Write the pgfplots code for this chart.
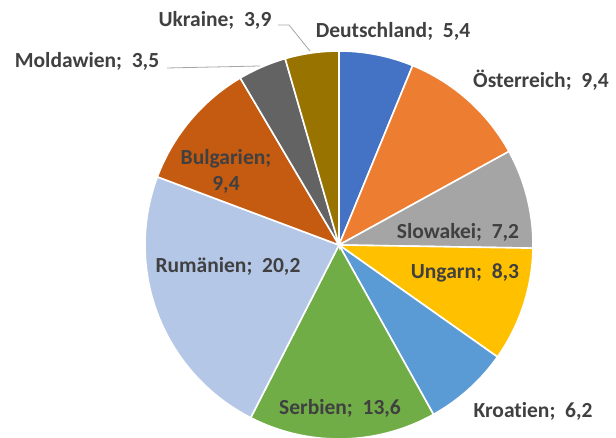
\documentclass[border=0pt]{standalone}
\usepackage{pgfplots}
\pgfplotsset{compat=1.18}
\usepackage{pgfplotstable}
\usepackage{fontspec}
\setmainfont{Carlito}[Ligatures=NoCommon, RawFeature={-calt;-clig}]
\definecolor{c0}{HTML}{4472C4}
\definecolor{c1}{HTML}{ED7D31}
\definecolor{c2}{HTML}{A5A5A5}
\definecolor{c3}{HTML}{FFC000}
\definecolor{c4}{HTML}{5B9BD5}
\definecolor{c5}{HTML}{70AD47}
\definecolor{c6}{HTML}{B4C7E7}
\definecolor{c7}{HTML}{C55A11}
\definecolor{c8}{HTML}{636363}
\definecolor{c9}{HTML}{997300}
\definecolor{lbl}{HTML}{404040}
\tikzset{lab/.style={font=\fontsize{21.5}{25}\selectfont\bfseries, text=lbl, inner sep=0pt}}
\pgfplotstableread[col sep=comma]{
idx,value
0,5.4
1,9.4
2,7.2
3,8.3
4,6.2
5,13.6
6,20.2
7,9.4
8,3.5
9,3.9
}\pietable
\def\cum{0}
\pgfplotsforeachungrouped \i in {0,...,9}{%
  \pgfplotstablegetelem{\i}{value}\of\pietable
  \pgfmathsetmacro\newcum{\cum+\pgfplotsretval}%
  \expandafter\xdef\csname start\i\endcsname{\cum}%
  \expandafter\xdef\csname stop\i\endcsname{\newcum}%
  \xdef\cum{\newcum}%
}
\begin{document}
\begin{tikzpicture}
\begin{axis}[
  width=616pt, height=438pt, scale only axis,
  xmin=0, xmax=616, ymin=0, ymax=438,
  hide axis, clip=true,
]
\path (rel axis cs:0,0) rectangle (rel axis cs:1,1);
\pgfplotsinvokeforeach{0,...,9}{
  \addplot[draw=white, line width=1.6pt, fill=c#1, samples=90, variable=\t,
    domain={90-\csname stop#1\endcsname*360/\cum}:{90-\csname start#1\endcsname*360/\cum}]
    ({339+194*cos(\t)},{193+194*sin(\t)}) -- (axis cs:339,193) -- cycle;
}
\draw[gray!70, line width=0.8pt] (axis cs:278,413) -- (axis cs:289,413) -- (axis cs:310,387);
\draw[gray!70, line width=0.8pt] (axis cs:167,370) -- (axis cs:260,372);
\node[lab] at (axis cs:215,418) {Ukraine;\ \ 3,9};
\node[lab] at (axis cs:87,377) {Moldawien;\ \ 3,5};
\node[lab] at (axis cs:393,407) {Deutschland;\ \ 5,4};
\node[lab] at (axis cs:541,358) {Österreich;\ \ 9,4};
\node[lab] at (axis cs:458,206) {Slowakei;\ \ 7,2};
\node[lab] at (axis cs:465,165) {Ungarn;\ \ 8,3};
\node[lab] at (axis cs:533,27) {Kroat\kern0pt ien;\ \ 6,2};
\node[lab] at (axis cs:340,30) {Serbien;\ \ 13,6};
\node[lab] at (axis cs:228,172) {Rumänien;\ \ 20,2};
\node[lab, align=center] at (axis cs:226,267) {Bulgarien;\\[1pt]9,4};
\end{axis}
\end{tikzpicture}
\end{document}
